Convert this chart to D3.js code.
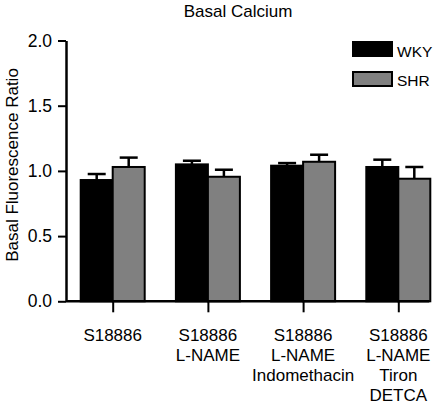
<!DOCTYPE html>
<html><head><meta charset="utf-8">
<script src="https://cdn.jsdelivr.net/npm/d3@7"></script>
<style>
html,body{margin:0;padding:0;background:#fff;}
text{font-family:"Liberation Sans",Arial,Helvetica,sans-serif;fill:#000;}
</style></head>
<body><svg id="c" width="437" height="407"></svg>
<script>
const categories = [
  ["S18886"],
  ["S18886","L-NAME"],
  ["S18886","L-NAME","Indomethacin"],
  ["S18886","L-NAME","Tiron","DETCA"]
];
const seriesNames = ["WKY","SHR"];
const seriesColors = ["#000000","#808080"];
const wkyMean = [0.93, 1.05, 1.04, 1.03];
const wkyErr  = [0.046, 0.028, 0.02, 0.056];
const shrMean = [1.03, 0.955, 1.07, 0.94];
const shrErr  = [0.072, 0.054, 0.054, 0.09];
const yTicks = [0, 0.5, 1.0, 1.5, 2.0];

const svg = d3.select("#c");
const keys = categories.map((c,i)=>"g"+i);
const x = d3.scalePoint().domain(keys).range([112.7, 398.3]);
const y = d3.scaleLinear().domain([0,2]).range([301.3, 40.5]);
const barW = 32;
const axisLeftX = 66;

// title
svg.append("text").attr("x",238).attr("y",17).attr("text-anchor","middle")
  .style("font-size","17px").text("Basal Calcium");

// y label
svg.append("text").attr("transform","translate(18,165) rotate(-90)")
  .attr("text-anchor","middle").style("font-size","17px").text("Basal Fluorescence Ratio");

// bars
const series = [
  {name:seriesNames[0], mean:wkyMean, err:wkyErr, color:seriesColors[0], off:-barW},
  {name:seriesNames[1], mean:shrMean, err:shrErr, color:seriesColors[1], off:0}
];
series.forEach(s=>{
  const g = svg.append("g");
  keys.forEach((k,i)=>{
    const cx = x(k) + s.off;
    g.append("line").attr("x1",cx+barW/2).attr("x2",cx+barW/2)
      .attr("y1",y(s.mean[i])).attr("y2",y(s.mean[i]+s.err[i]))
      .attr("stroke","#000").attr("stroke-width",2.5);
    g.append("line").attr("x1",cx+barW/2-9).attr("x2",cx+barW/2+9)
      .attr("y1",y(s.mean[i]+s.err[i])).attr("y2",y(s.mean[i]+s.err[i]))
      .attr("stroke","#000").attr("stroke-width",2.5);
    g.append("rect").attr("x",cx).attr("width",barW)
      .attr("y",y(s.mean[i])).attr("height",y(0)-y(s.mean[i]))
      .attr("fill",s.color).attr("stroke","#000").attr("stroke-width",2);
  });
});

// y axis
const ya = svg.append("g").attr("transform",`translate(${axisLeftX},0)`)
  .call(d3.axisLeft(y).tickValues(yTicks).tickFormat(d3.format(".1f")).tickSize(8).tickSizeOuter(0).tickPadding(6));
ya.select(".domain").attr("stroke-width",2.5);
ya.selectAll(".tick line").attr("stroke-width",2);
ya.selectAll(".tick text").style("font-size","17.5px").style("font-family","'Liberation Sans',Arial,sans-serif");

// x axis
const xa = svg.append("g").attr("transform",`translate(0,${y(0)})`)
  .call(d3.axisBottom(x).tickSize(11).tickFormat(""));
xa.select(".domain").remove();
xa.selectAll(".tick line").attr("stroke-width",2);
svg.append("line").attr("x1",axisLeftX).attr("x2",x(keys[keys.length-1])+barW-1)
  .attr("y1",y(0)).attr("y2",y(0)).attr("stroke","#000").attr("stroke-width",2.5);

// x labels
keys.forEach((k,i)=>{
  const t = svg.append("text").attr("text-anchor","middle").style("font-size","17px");
  categories[i].forEach((line,j)=>{
    t.append("tspan").attr("x",x(k)).attr("y",340.5 + j*20.3).text(line);
  });
});

// legend
const lg = svg.append("g");
series.forEach((s,i)=>{
  lg.append("rect").attr("x",353).attr("y",42+i*30).attr("width",39).attr("height",14)
    .attr("fill",s.color).attr("stroke","#000").attr("stroke-width",2);
  lg.append("text").attr("x",397).attr("y",56.5+i*29.3).style("font-size","15.5px").text(s.name);
});
</script></body></html>
